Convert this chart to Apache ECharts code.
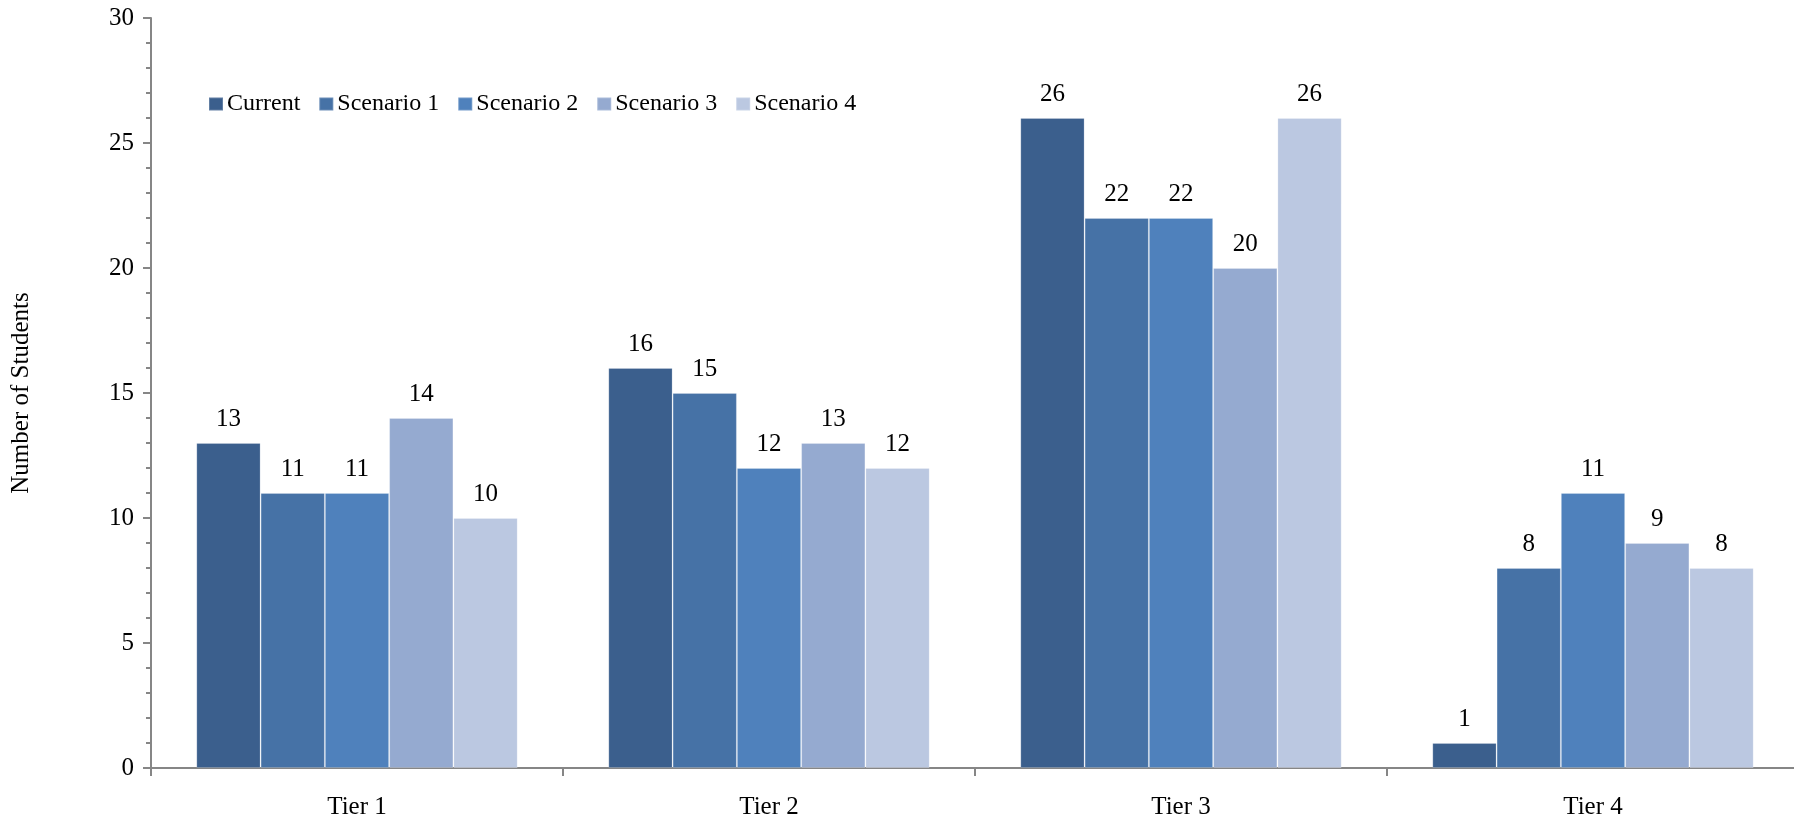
<!DOCTYPE html>
<html>
<head>
<meta charset="utf-8">
<script src="https://cdn.jsdelivr.net/npm/echarts@6/dist/echarts.min.js"></script>
<style>
html,body{margin:0;padding:0;background:#fff;overflow:hidden;}
#chart{width:1800px;height:822px;}
</style>
</head>
<body>
<div id="chart"></div>
<script>
const categories = ['Tier 1', 'Tier 2', 'Tier 3', 'Tier 4'];
const seriesNames = ['Current', 'Scenario 1', 'Scenario 2', 'Scenario 3', 'Scenario 4'];
const current = [13, 16, 26, 1];
const scenario1 = [11, 15, 22, 8];
const scenario2 = [11, 12, 22, 11];
const scenario3 = [14, 13, 20, 9];
const scenario4 = [10, 12, 26, 8];
const colors = ['#3B5F8D', '#4672A6', '#4F81BC', '#95AAD0', '#BBC8E1'];

const allData = [current, scenario1, scenario2, scenario3, scenario4];
const font = '"Liberation Serif", "Times New Roman", serif';

const chart = echarts.init(document.getElementById('chart'));
chart.setOption({
  animation: false,
  textStyle: { fontFamily: font, color: '#000' },
  legend: {
    left: 203, top: 87,
    itemWidth: 14, itemHeight: 13, itemGap: 18,
    icon: 'rect',
    textStyle: { fontFamily: font, fontSize: 24, color: '#000', padding: [0, 0, 0, -1] },
    data: seriesNames
  },
  grid: { left: 151, right: 1, top: 18, bottom: 54, containLabel: false },
  xAxis: {
    type: 'category',
    data: categories,
    axisLine: { lineStyle: { color: '#868686', width: 2 } },
    axisTick: { show: true, length: 8, lineStyle: { color: '#868686', width: 2 } },
    axisLabel: { fontFamily: font, fontSize: 25, color: '#000', margin: 27 }
  },
  yAxis: {
    type: 'value',
    min: 0, max: 30, interval: 5,
    name: 'Number of Students',
    nameLocation: 'middle',
    nameRotate: 90,
    nameGap: 117,
    nameTextStyle: { fontFamily: font, fontSize: 25, color: '#000' },
    axisLine: { show: true, lineStyle: { color: '#868686', width: 2 } },
    axisTick: { show: true, length: 8, lineStyle: { color: '#868686', width: 2 } },
    minorTick: { show: true, splitNumber: 5, length: 5, lineStyle: { color: '#868686', width: 2 } },
    splitLine: { show: false },
    axisLabel: { fontFamily: font, fontSize: 25, color: '#000', margin: 17 }
  },
  series: seriesNames.map((name, i) => ({
    name: name,
    type: 'bar',
    data: allData[i],
    barGap: '0%',
    barCategoryGap: '22%',
    itemStyle: { color: colors[i], borderColor: 'rgba(255,255,255,0.2)', borderWidth: 1 },
    label: {
      show: true, position: 'top', distance: 11,
      fontFamily: font, fontSize: 25, color: '#000'
    }
  }))
});
</script>
</body>
</html>
